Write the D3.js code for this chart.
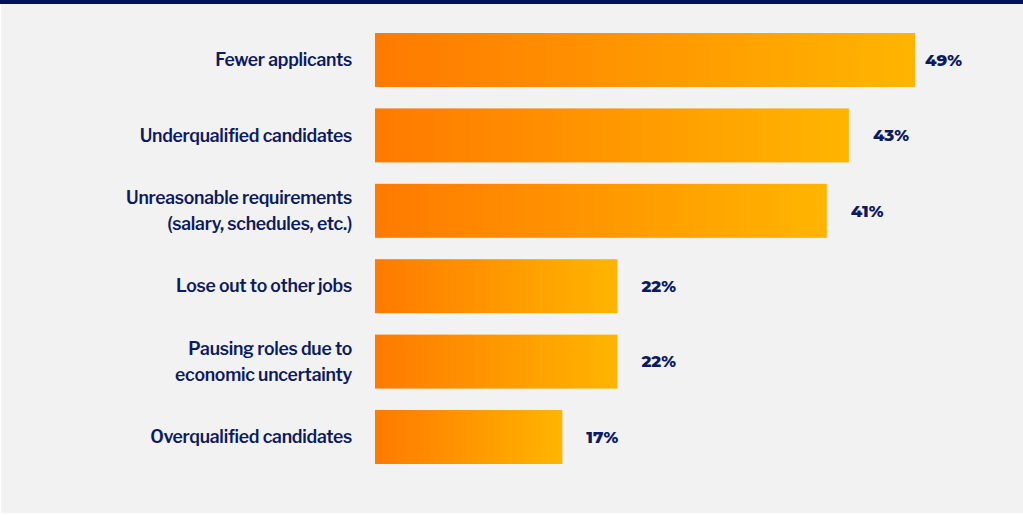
<!DOCTYPE html>
<html>
<head>
<meta charset="utf-8">
<script src="https://cdn.jsdelivr.net/npm/d3@7"></script>
<style>
  html, body { margin: 0; padding: 0; background: #ffffff; }
  svg { display: block; }
</style>
</head>
<body>
<svg id="chart" width="1023" height="515"></svg>
<script>
// Reasons given for hiring difficulty, share of respondents (%)
const categories = [
  ["Fewer applicants"],
  ["Underqualified candidates"],
  ["Unreasonable requirements", "(salary, schedules, etc.)"],
  ["Lose out to other jobs"],
  ["Pausing roles due to", "economic uncertainty"],
  ["Overqualified candidates"]
];
const values = [49, 43, 41, 22, 22, 17];
const valueLabels = ["49%", "43%", "41%", "22%", "22%", "17%"];

const W = 1023, H = 515;
const navy = "#0c1a60";

const svg = d3.select("#chart");

// panel background and top rule
svg.append("rect").attr("x", 1).attr("y", 0).attr("width", W - 1).attr("height", H - 2).attr("fill", "#f2f2f2");
svg.append("rect").attr("x", 0).attr("y", 0).attr("width", W).attr("height", 4).attr("fill", "#00125c");

const keys = categories.map((c, i) => i);

const x = d3.scaleLinear().domain([0, 49]).range([375, 915]);
const y = d3.scaleBand().domain(keys).range([33, 464]).paddingInner(0.284).paddingOuter(0);

// horizontal orange → amber gradient applied to each bar
const defs = svg.append("defs");
const grad = defs.append("linearGradient")
  .attr("id", "barGrad")
  .attr("x1", "0%").attr("x2", "100%").attr("y1", "0%").attr("y2", "0%");
grad.append("stop").attr("offset", "0%").attr("stop-color", "#ff7a00");
grad.append("stop").attr("offset", "100%").attr("stop-color", "#ffb500");

svg.append("g")
  .selectAll("rect")
  .data(values)
  .join("rect")
  .attr("x", x(0))
  .attr("y", (d, i) => y(i))
  .attr("width", d => x(d) - x(0))
  .attr("height", y.bandwidth())
  .attr("fill", "url(#barGrad)");

// category labels, right-aligned left of the bars
const lineGap = 26;
const catG = svg.append("g");
categories.forEach((lines, i) => {
  const cy = y(i) + y.bandwidth() / 2;
  const t = catG.append("text")
    .attr("x", 352)
    .attr("text-anchor", "end")
    .attr("font-family", "'Libre Franklin', 'Inter', sans-serif")
    .attr("font-weight", 600)
    .attr("font-size", 17.6)
    .attr("letter-spacing", -0.25)
    .attr("fill", navy);
  lines.forEach((ln, j) => {
    t.append("tspan")
      .attr("x", 352)
      .attr("y", cy + (j - (lines.length - 1) / 2) * lineGap)
      .attr("dy", "0.35em")
      .text(ln);
  });
});

// value labels after the bar ends, kept inside the right margin
const maxRight = 962;
svg.append("g")
  .selectAll("text")
  .data(values)
  .join("text")
  .attr("y", (d, i) => y(i) + y.bandwidth() / 2)
  .attr("dy", "0.35em")
  .attr("font-family", "'Montserrat', 'Inter', sans-serif")
  .attr("font-weight", 800)
  .attr("font-size", 16.5)
  .attr("fill", navy)
  .text((d, i) => valueLabels[i])
  .each(function(d) {
    const w = this.getComputedTextLength();
    const xs = Math.min(x(d) + 24, maxRight - w);
    d3.select(this).attr("x", xs);
  });
</script>
</body>
</html>
